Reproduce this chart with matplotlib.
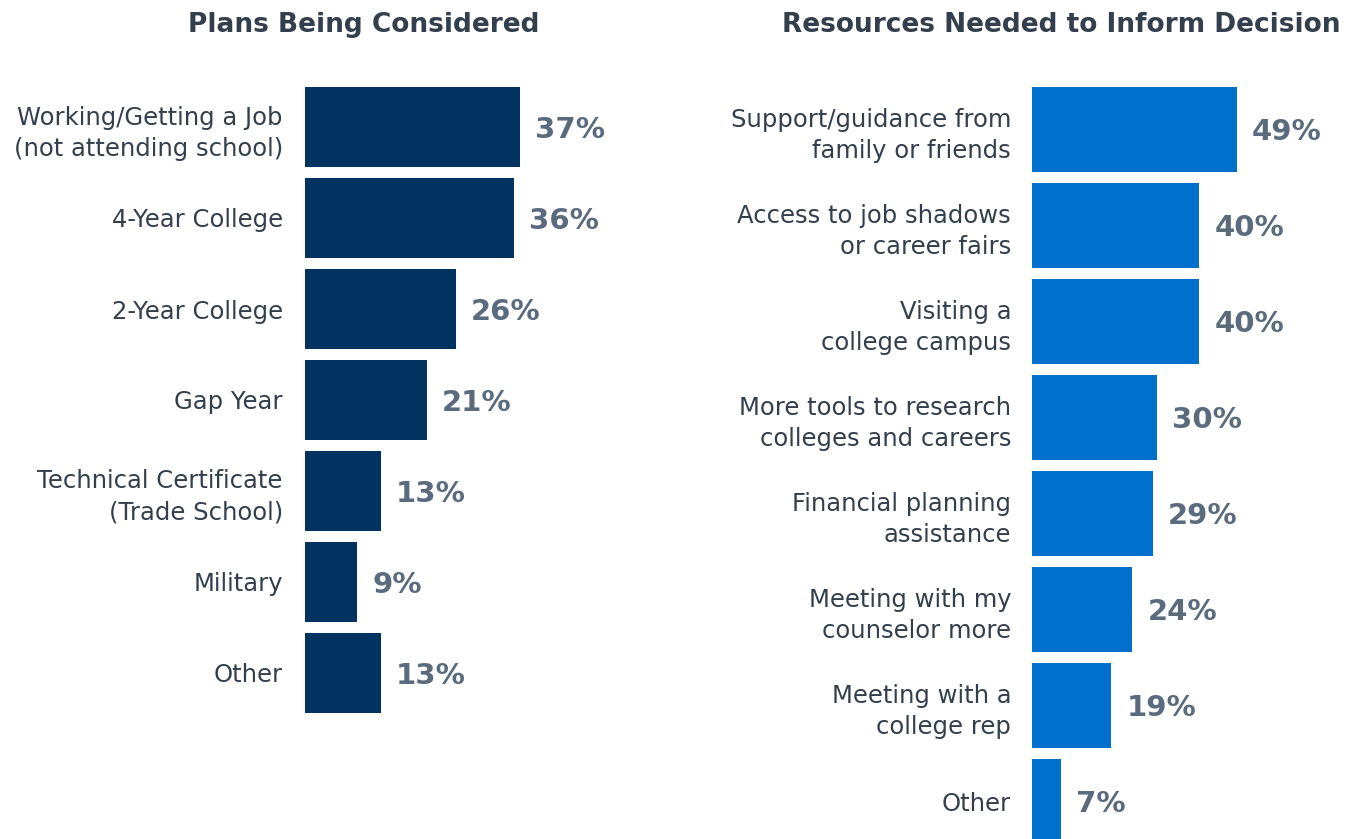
import matplotlib.pyplot as plt

# plans being considered
plan_labels = ['Working/Getting a Job\n(not attending school)', '4-Year College',
               '2-Year College', 'Gap Year', 'Technical Certificate\n(Trade School)',
               'Military', 'Other']
plan_values = [37, 36, 26, 21, 13, 9, 13]

# resources needed to inform decision
res_labels = ['Support/guidance from\nfamily or friends', 'Access to job shadows\nor career fairs',
              'Visiting a\ncollege campus', 'More tools to research\ncolleges and careers',
              'Financial planning\nassistance', 'Meeting with my\ncounselor more',
              'Meeting with a\ncollege rep', 'Other']
res_values = [49, 40, 40, 30, 29, 24, 19, 7]

W, H = 1354, 839
text_color = '#333f4c'
value_color = '#5b6b7e'

fig = plt.figure(figsize=(W / 100, H / 100), dpi=100)


def draw_panel(rect, labels, values, color, title, title_x, px_per_pct, bar_h, pad):
    ax = fig.add_axes(rect)
    n = len(values)
    y = list(range(n))
    ax.barh(y, values, height=bar_h, color=color, edgecolor='none')
    ax.set_xlim(0, rect[2] * W / px_per_pct)
    ax.set_ylim(n - 0.5, -0.5)
    ax.set_yticks(y)
    ax.set_yticklabels(labels, fontsize=17.5, color=text_color, linespacing=1.38)
    ax.tick_params(axis='y', length=0, pad=pad)
    for lab in ax.get_yticklabels():
        lab.set_horizontalalignment('right')
        lab.set_multialignment('right')
    ax.set_xticks([])
    for s in ax.spines.values():
        s.set_visible(False)
    for yi, v in zip(y, values):
        ax.text(v + 15 / px_per_pct, yi + 0.03, f'{v}%', va='center', ha='left',
                fontsize=21, fontweight='bold', color=value_color)
    fig.text(title_x / W, 1 - 25 / H, title, ha='center', va='center',
             fontsize=19, fontweight='bold', color=text_color)
    return ax


# left panel: 5.81 px per percent, bars every 91 px
top = 81.5
left_h = 91 * 7
draw_panel([305 / W, 1 - (top + left_h) / H, 300 / W, left_h / H],
           plan_labels, plan_values, '#003360', 'Plans Being Considered', 364, 5.81, 80 / 91, 16)

# right panel: 4.18 px per percent, bars every 96 px
right_h = 96 * 8
draw_panel([1032 / W, 1 - (top + right_h) / H, 300 / W, right_h / H],
           res_labels, res_values, '#0070cc', 'Resources Needed to Inform Decision', 1061, 4.18, 85 / 96, 15)

fig.savefig('out.png', dpi=100)
